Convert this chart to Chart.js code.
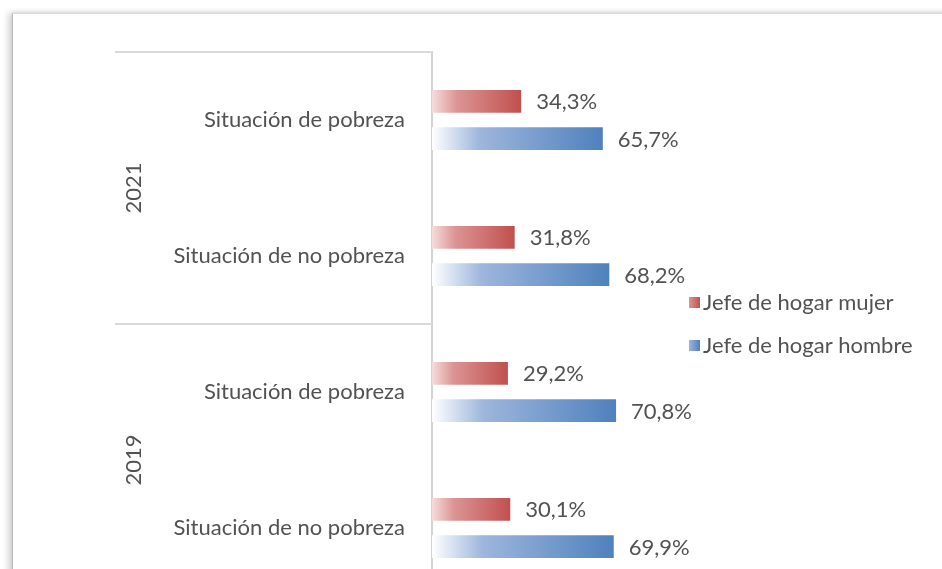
<!DOCTYPE html>
<html>
<head>
<meta charset="utf-8">
<script src="https://cdn.jsdelivr.net/npm/chart.js@4.4.1/dist/chart.umd.min.js"></script>
<style>
  html, body { margin: 0; padding: 0; background: #fff; overflow: hidden; }
  #wrap { position: relative; width: 942px; height: 569px; overflow: hidden; }
  #frame {
    position: absolute; left: 12px; top: 13px; width: 1000px; height: 700px;
    background: #fff;
    border-left: 1px solid #b8b8b8; border-top: 1px solid #dcdcdc;
    box-shadow: -4px 0 6px rgba(0,0,0,0.16), 0 -2px 4px rgba(0,0,0,0.06);
  }
  #c { position: absolute; left: 0; top: 0; width: 942px; height: 640px; }
</style>
</head>
<body>
<div id="wrap">
  <div id="frame"></div>
  <canvas id="c" width="942" height="640"></canvas>
</div>
<script>
// data
const categories = ['Situación de pobreza', 'Situación de no pobreza', 'Situación de pobreza', 'Situación de no pobreza'];
const years = ['2021', '2019'];
const seriesNames = ['Jefe de hogar mujer', 'Jefe de hogar hombre'];
const mujer = [34.3, 31.8, 29.2, 30.1];
const hombre = [65.7, 68.2, 70.8, 69.9];

const textColor = '#525252';
const fontFamily = 'Lato, "Open Sans", sans-serif';
const fontSize = 22;

// gradient colours: [left, mid, right]
const redStops = ['#f6dcdc', '#dc9494', '#c0504d'];
const blueStops = ['#ffffff', '#9db6dc', '#4f81bd'];

function barGradient(stops) {
    return (context) => {
        const chart = context.chart;
        if (!chart.chartArea) return stops[2];
        const xs = chart.scales.x;
        const v = context.raw;
        const x0 = xs.getPixelForValue(0);
        const x1 = xs.getPixelForValue(v);
        const g = chart.ctx.createLinearGradient(x0, 0, x1, 0);
        g.addColorStop(0, stops[0]);
        g.addColorStop(0.28, stops[1]);
        g.addColorStop(1, stops[2]);
        return g;
    };
}

const fmt = (v) => v.toFixed(1).replace('.', ',') + '%';

// year groups, separators, value labels and legend
const extras = {
    id: 'extras',
    afterDatasetsDraw(chart) {
        const ctx = chart.ctx;
        const ys = chart.scales.y;
        const area = chart.chartArea;
        ctx.save();

        // value labels
        ctx.font = `${fontSize}px ${fontFamily}`;
        ctx.fillStyle = textColor;
        ctx.textAlign = 'left';
        ctx.textBaseline = 'middle';
        chart.data.datasets.forEach((ds, di) => {
            chart.getDatasetMeta(di).data.forEach((bar, i) => {
                ctx.fillText(fmt(ds.data[i]), bar.x + 15, bar.y + 1);
            });
        });

        // group separators
        ctx.strokeStyle = '#d9d9d9';
        ctx.lineWidth = 2;
        const bounds = [area.top];
        for (let g = 1; g < years.length; g++) bounds.push(ys.getPixelForValue(g * 2 - 0.5));
        bounds.push(area.bottom);
        bounds.forEach((y) => {
            ctx.beginPath();
            ctx.moveTo(115, y);
            ctx.lineTo(area.left, y);
            ctx.stroke();
        });

        // year labels
        years.forEach((yr, g) => {
            const yc = (ys.getPixelForValue(g * 2) + ys.getPixelForValue(g * 2 + 1)) / 2;
            ctx.save();
            ctx.translate(134, yc);
            ctx.rotate(-Math.PI / 2);
            ctx.textAlign = 'center';
            ctx.textBaseline = 'middle';
            ctx.fillText(yr, 0, 0);
            ctx.restore();
        });

        // legend
        const lx = 689, ly = [302, 345];
        chart.data.datasets.forEach((ds, di) => {
            const st = di === 0 ? redStops : blueStops;
            const g = ctx.createLinearGradient(lx, 0, lx + 11, 0);
            g.addColorStop(0, st[1]);
            g.addColorStop(1, st[2]);
            ctx.fillStyle = g;
            ctx.fillRect(lx, ly[di] - 5, 11, 11);
            ctx.fillStyle = textColor;
            ctx.textAlign = 'left';
            ctx.fillText(ds.label, lx + 14, ly[di] + 1);
        });
        ctx.restore();
    }
};

new Chart(document.getElementById('c'), {
    type: 'bar',
    data: {
        labels: categories,
        datasets: [
            { label: seriesNames[0], data: mujer, backgroundColor: barGradient(redStops) },
            { label: seriesNames[1], data: hombre, backgroundColor: barGradient(blueStops) }
        ]
    },
    options: {
        indexAxis: 'y',
        responsive: false,
        animation: false,
        devicePixelRatio: 1,
        categoryPercentage: 0.55,
        barPercentage: 0.61,
        layout: { padding: { left: 112, top: 52, bottom: 44, right: 250 } },
        plugins: { legend: { display: false }, tooltip: { enabled: false } },
        scales: {
            x: { display: false, min: 0, max: 100 },
            y: {
                grid: { display: false, drawTicks: false },
                border: { display: true, color: '#d4d4d4', width: 2 },
                ticks: {
                    color: textColor,
                    padding: 27,
                    font: { family: fontFamily, size: fontSize }
                },
                afterFit(scale) { scale.width = 320; }
            }
        }
    },
    plugins: [extras]
});
</script>
</body>
</html>
